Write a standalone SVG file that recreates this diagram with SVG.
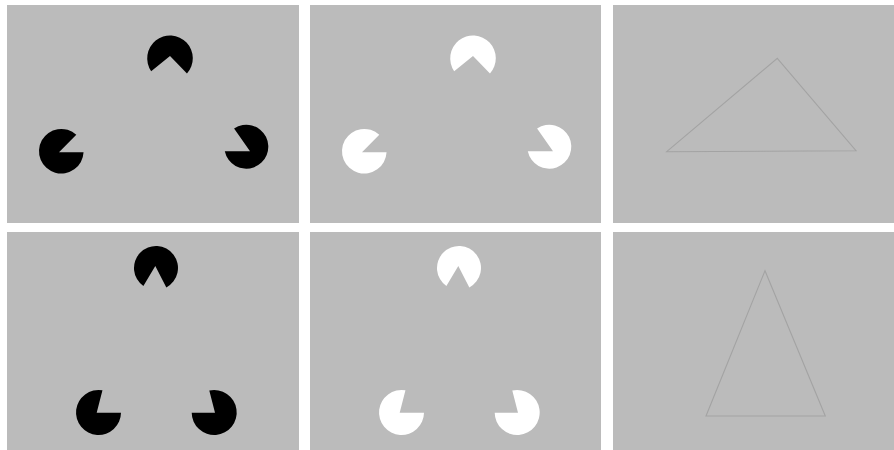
<svg xmlns="http://www.w3.org/2000/svg" xmlns:xlink="http://www.w3.org/1999/xlink" width="894" height="450" viewBox="0 0 894 450">
  <style>
    .panel { fill: #bbbbbb; }
    .outline { fill: none; stroke: #a3a3a3; stroke-width: 1.1; stroke-linejoin: miter; }
    .black { fill: #000000; }
    .white { fill: #ffffff; }
  </style>
  <defs>
    <g id="pacmen-top">
      <path d="M186.96,73.54 L170,56 L151.17,71.15 A22.8,22.8 0 1 1 186.96,73.54 Z"/>
      <path d="M76.3,134.7 L59,152.3 L83.57,152.3 A22.3,22.3 0 1 1 76.3,134.7 Z"/>
      <path d="M224.79,151.3 L250,151.3 L234.08,128.4 A22,22 0 1 1 224.79,151.3 Z"/>
    </g>
    <g id="pacmen-bottom">
      <path d="M166.34,287.42 L155.3,266 L143.39,286.04 A22,22 0 1 1 166.34,287.42 Z"/>
      <path d="M102.46,390.35 L96.7,412.7 L121,412.7 A22.5,22.5 0 1 1 102.46,390.35 Z"/>
      <path d="M191.7,412.7 L215,412.7 L209.29,390.54 A22.5,22.5 0 1 1 191.7,412.7 Z"/>
    </g>
  </defs>
  <rect x="0" y="0" width="894" height="450" fill="#ffffff"/>

  <g id="panel-top-black">
    <rect class="panel" x="7" y="5" width="292" height="218"/>
    <use xlink:href="#pacmen-top" href="#pacmen-top" class="black"/>
  </g>
  <g id="panel-top-white">
    <rect class="panel" x="310" y="5" width="291" height="218"/>
    <use xlink:href="#pacmen-top" href="#pacmen-top" class="white" transform="translate(303,0)"/>
  </g>
  <g id="panel-top-triangle">
    <rect class="panel" x="613" y="5" width="281" height="218"/>
    <polygon class="outline" points="777.3,58.3 856,150.7 666.7,151.7"/>
  </g>

  <g id="panel-bottom-black">
    <rect class="panel" x="7" y="232" width="292" height="218"/>
    <use xlink:href="#pacmen-bottom" href="#pacmen-bottom" class="black"/>
  </g>
  <g id="panel-bottom-white">
    <rect class="panel" x="310" y="232" width="291" height="218"/>
    <use xlink:href="#pacmen-bottom" href="#pacmen-bottom" class="white" transform="translate(303,0)"/>
  </g>
  <g id="panel-bottom-triangle">
    <rect class="panel" x="613" y="232" width="281" height="218"/>
    <polygon class="outline" points="765,270.7 825.3,416 706,416"/>
  </g>
</svg>
